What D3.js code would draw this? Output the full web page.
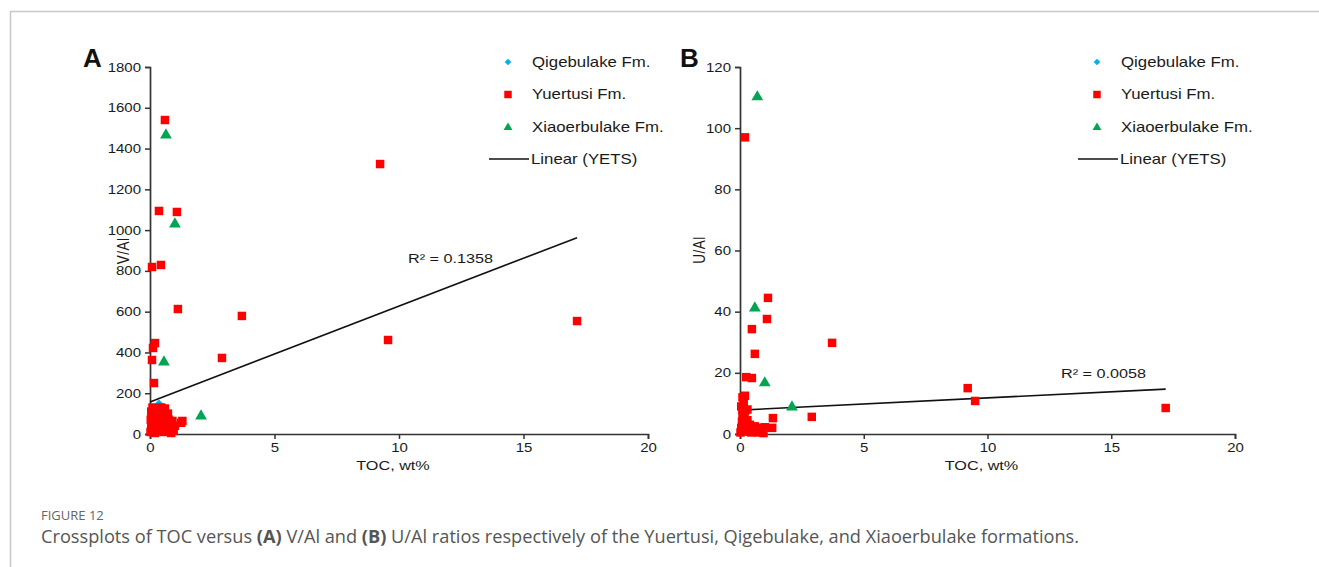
<!DOCTYPE html>
<html>
<head>
<meta charset="utf-8">
<script src="https://cdn.jsdelivr.net/npm/d3@7"></script>
<style>
  html, body { margin: 0; padding: 0; background: #fff; }
  svg { display: block; }
</style>
</head>
<body>
<svg id="fig" width="1319" height="567"></svg>
<script>
// ---- Data: TOC (wt%) against V/Al and U/Al ----
const xTicks = [0, 5, 10, 15, 20];
const vTicks = [0, 200, 400, 600, 800, 1000, 1200, 1400, 1600, 1800];
const uTicks = [0, 20, 40, 60, 80, 100, 120];

// Panel A: V/Al
const qigeA_toc = [0.36, 0.48, 0.30, 0.42, 0.20, 0.12, 0.25];
const qigeA_v   = [147, 133, 125, 115, 95, 70, 50];

const yuerA_toc = [0.60, 0.36, 1.08, 0.44, 0.08, 9.24, 1.12, 3.69, 2.89, 9.56, 17.15, 0.20, 0.12, 0.08, 0.16,
                   0.02, 0.05, 0.08, 0.10, 0.12, 0.15, 0.18, 0.20, 0.22, 0.25, 0.28, 0.30, 0.32, 0.35, 0.38,
                   0.40, 0.45, 0.50, 0.55, 0.60, 0.65, 0.70, 0.72, 0.75, 0.80, 0.85, 0.90, 0.95, 1.00, 1.30,
                   1.25, 0.05, 0.10, 0.03, 0.15, 0.60, 0.28, 0.45, 0.65];
const yuerA_v   = [1540, 1094, 1089, 829, 819, 1324, 613, 579, 373, 461, 554, 446, 422, 363, 250,
                   10, 30, 55, 80, 20, 45, 100, 5, 70, 120, 35, 90, 15, 60, 105,
                   25, 80, 40, 10, 95, 55, 20, 100, 70, 30, 5, 64, 15, 40, 64,
                   55, 110, 130, 70, 8, 125, 115, 130, 85];

const xiaoA_toc = [0.64, 1.00, 0.56, 2.05];
const xiaoA_v   = [1466, 1030, 353, 88];

// Panel B: U/Al
const qigeB_toc = [0.10, 0.20, 0.30];
const qigeB_u   = [1.0, 2.0, 0.8];

const yuerB_toc = [0.20, 1.13, 1.09, 0.48, 0.60, 3.72, 0.25, 0.48, 0.10, 0.20, 0.30, 1.33, 2.90, 9.20, 9.50, 17.20,
                   0.02, 0.05, 0.08, 0.10, 0.12, 0.15, 0.18, 0.20, 0.22, 0.25, 0.30, 0.35, 0.40, 0.45, 0.50,
                   0.55, 0.60, 0.70, 0.75, 0.80, 0.90, 0.95, 1.00, 1.30, 0.05, 0.10, 0.15, 0.30];
const yuerB_u   = [97, 44.5, 37.6, 34.3, 26.2, 29.8, 18.6, 18.3, 12.0, 12.5, 8.0, 5.2, 5.6, 15.0, 10.8, 8.5,
                   0.5, 2, 4, 6, 1, 3, 5, 7.5, 0.8, 2.5, 4.5, 1.5, 3, 0.5, 2,
                   1, 2.5, 1.5, 0.5, 2, 1.3, 0.3, 2.2, 2, 9, 8, 10, 2];

const xiaoB_toc = [0.70, 0.60, 1.00, 2.10];
const xiaoB_u   = [110.2, 41.2, 16.7, 8.8];

// Linear fits through the Yuertusi samples: [slope, intercept]
const fitV = [47.0, 157];
const fitU = [0.40, 7.8];
const r2Labels = ["R\u00b2 = 0.1358", "R\u00b2 = 0.0058"];

const seriesNames = ["Qigebulake Fm.", "Yuertusi Fm.", "Xiaoerbulake Fm.", "Linear (YETS)"];

// ---- Styling ----
const FONT = "'Liberation Sans', Arial, sans-serif";
const SX = 1.2;                // horizontal stretch of chart lettering
const AXIS = "#333";
const C_Q = "#00b0f0", C_Y = "#ff0000", C_X = "#00a651";

const svg = d3.select("#fig");

// Page frame
svg.append("line").attr("x1", 10).attr("x2", 1319).attr("y1", 11.5).attr("y2", 11.5)
  .attr("stroke", "#c8c8c8").attr("stroke-width", 1.5);
svg.append("line").attr("x1", 10.5).attr("x2", 10.5).attr("y1", 11).attr("y2", 567)
  .attr("stroke", "#c8c8c8").attr("stroke-width", 1.5);

function stretchedText(g, x, y, txt, size, anchor, weight) {
  return g.append("text")
    .attr("transform", `translate(${x},${y}) scale(${SX},1)`)
    .attr("font-family", FONT).attr("font-size", size)
    .attr("font-weight", weight || "normal")
    .attr("text-anchor", anchor || "start")
    .attr("dominant-baseline", "central")
    .attr("fill", "#1a1a1a")
    .text(txt);
}

const square = d3.symbol().type(d3.symbolSquare);
const tri = d3.symbol().type(d3.symbolTriangle);
// Diamond markers: squares turned by 45 degrees
const diamondAt = (px, py) => `translate(${px},${py}) rotate(45)`;

function drawPanel(p) {
  const g = svg.append("g");
  const x = d3.scaleLinear().domain([0, 20]).range([p.x0, p.x1]);
  const y = d3.scaleLinear().domain([0, p.yMax]).range([434, 67]);

  // Axes
  const ax = g.append("g").attr("transform", "translate(0,434)")
    .call(d3.axisBottom(x).tickValues(xTicks).tickFormat(d3.format("d"))
      .tickSizeOuter(0).tickSize(5).tickPadding(5));
  const ay = g.append("g").attr("transform", `translate(${p.x0},0)`)
    .call(d3.axisLeft(y).tickValues(p.yTicks).tickFormat(d3.format("d"))
      .tickSizeOuter(0).tickSize(5).tickPadding(4));
  [ax, ay].forEach(a => {
    a.select(".domain").attr("stroke", AXIS).attr("stroke-width", 1.7);
    a.selectAll(".tick line").attr("stroke", AXIS).attr("stroke-width", 1.5);
    a.selectAll(".tick text").attr("font-family", FONT).attr("font-size", 12.5).attr("fill", "#1a1a1a");
  });
  ax.selectAll(".tick text").attr("transform", `scale(${SX},1)`).attr("y", 9).attr("dy", "0.71em");
  ay.selectAll(".tick text").attr("transform", `scale(${SX},1)`).attr("x", -9 / SX);

  // Axis titles
  stretchedText(g, (p.x0 + p.x1) / 2 - 6, 465, "TOC, wt%", 13.5, "middle");
  g.append("text")
    .attr("transform", `translate(${p.yTitleX},${p.yTitleY}) rotate(-90) scale(1,${SX})`)
    .attr("font-family", FONT).attr("font-size", 13.5).attr("fill", "#1a1a1a")
    .attr("letter-spacing", 0.5)
    .attr("text-anchor", "middle").attr("dominant-baseline", "central")
    .text(p.yTitle);

  // Panel letter
  g.append("text").attr("x", p.letterX).attr("y", 67)
    .attr("font-family", FONT).attr("font-size", 26).attr("font-weight", "bold").attr("fill", "#111")
    .text(p.letter);

  // Regression line across the Yuertusi TOC range
  const ext = d3.extent(p.yToc);
  const fx = [0, ext[1]];
  g.append("line")
    .attr("x1", x(fx[0])).attr("y1", y(p.fit[0] * fx[0] + p.fit[1]))
    .attr("x2", x(fx[1])).attr("y2", y(p.fit[0] * fx[1] + p.fit[1]))
    .attr("stroke", "#111").attr("stroke-width", 1.6);

  // Points: Qigebulake beneath, then Yuertusi, then Xiaoerbulake
  g.append("g").selectAll("path").data(d3.range(p.qToc.length)).join("path")
    .attr("transform", i => diamondAt(x(p.qToc[i]), y(p.qVal[i])))
    .attr("d", square.size(40)).attr("fill", C_Q);
  g.append("g").selectAll("path").data(d3.range(p.yToc.length)).join("path")
    .attr("transform", i => `translate(${x(p.yToc[i])},${y(p.yVal[i])})`)
    .attr("d", square.size(72)).attr("fill", C_Y);
  g.append("g").selectAll("path").data(d3.range(p.xToc.length)).join("path")
    .attr("transform", i => `translate(${x(p.xToc[i])},${y(p.xVal[i])})`)
    .attr("d", tri.size(60)).attr("fill", C_X);

  // R² annotation
  stretchedText(g, p.r2x, p.r2y, p.r2, 13.5, "start");

  // Legend
  const lx = p.legX, ly = [62, 94.5, 127.5, 159];
  g.append("path").attr("transform", diamondAt(lx, ly[0])).attr("d", square.size(22)).attr("fill", C_Q);
  g.append("path").attr("transform", `translate(${lx},${ly[1]})`).attr("d", square.size(56)).attr("fill", C_Y);
  g.append("path").attr("transform", `translate(${lx},${ly[2]})`).attr("d", tri.size(34)).attr("fill", C_X);
  g.append("line").attr("x1", lx - 19).attr("x2", lx + 21).attr("y1", ly[3]).attr("y2", ly[3])
    .attr("stroke", "#111").attr("stroke-width", 1.6);
  seriesNames.forEach((s, i) => {
    stretchedText(g, i < 3 ? lx + 24 : lx + 23, ly[i], s, 14, "start");
  });
}

drawPanel({
  x0: 150, x1: 648, yMax: 1800, yTicks: vTicks, yTitle: "V/Al", yTitleX: 124, yTitleY: 251,
  letter: "A", letterX: 83,
  qToc: qigeA_toc, qVal: qigeA_v, yToc: yuerA_toc, yVal: yuerA_v, xToc: xiaoA_toc, xVal: xiaoA_v,
  fit: fitV, r2: r2Labels[0], r2x: 408, r2y: 258, legX: 508
});
drawPanel({
  x0: 740, x1: 1235, yMax: 120, yTicks: uTicks, yTitle: "U/Al", yTitleX: 700, yTitleY: 250,
  letter: "B", letterX: 680,
  qToc: qigeB_toc, qVal: qigeB_u, yToc: yuerB_toc, yVal: yuerB_u, xToc: xiaoB_toc, xVal: xiaoB_u,
  fit: fitU, r2: r2Labels[1], r2x: 1061, r2y: 373, legX: 1097
});

// Caption
const CAP = "'Open Sans', 'Noto Sans', sans-serif";
svg.append("text").attr("x", 41).attr("y", 520)
  .attr("font-family", CAP).attr("font-size", 13).attr("fill", "#666")
  .text("FIGURE 12");
const cap = svg.append("text").attr("x", 41).attr("y", 543)
  .attr("font-family", CAP).attr("font-size", 18.2).attr("fill", "#555");
[["Crossplots of TOC versus ", false], ["(A)", true], [" V/Al and ", false], ["(B)", true],
 [" U/Al ratios respectively of the Yuertusi, Qigebulake, and Xiaoerbulake formations.", false]]
  .forEach(([t, b]) => cap.append("tspan").attr("font-weight", b ? "bold" : "normal").text(t));
</script>
</body>
</html>
